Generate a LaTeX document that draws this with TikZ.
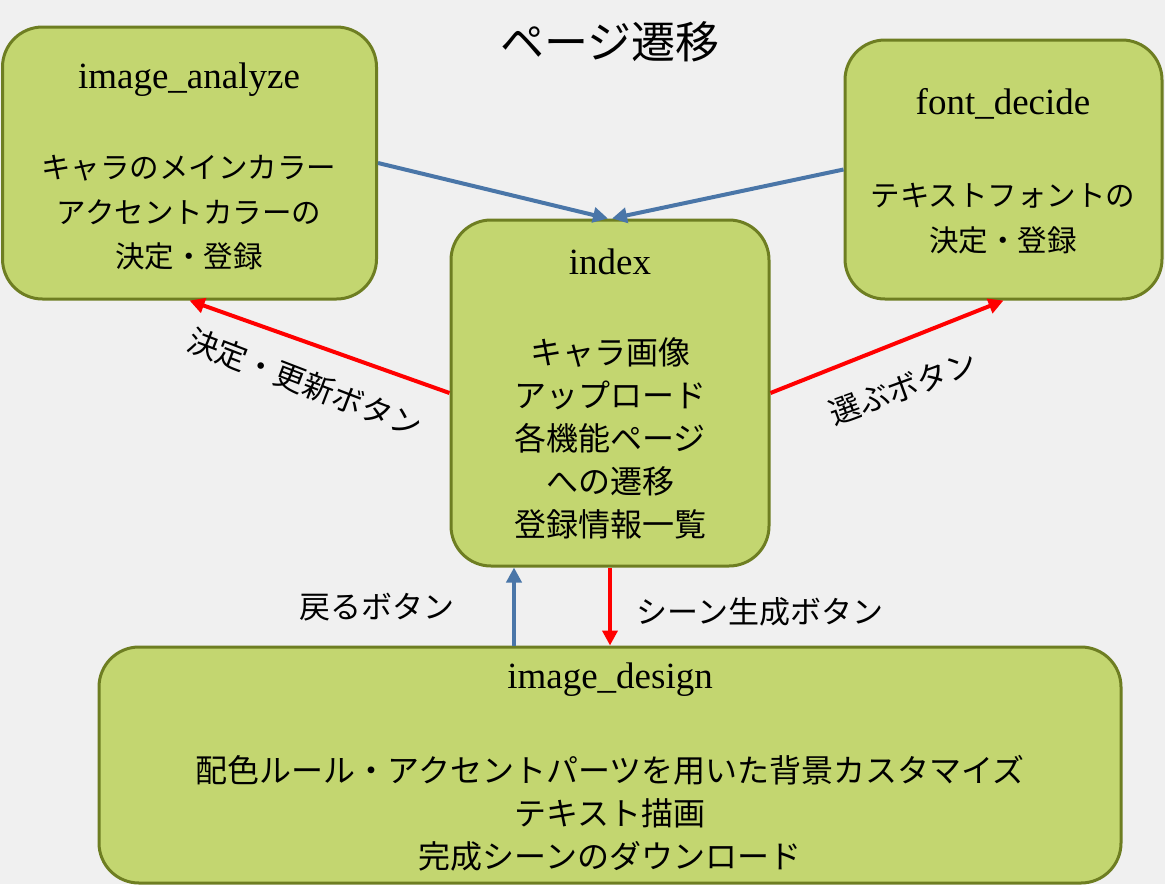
\documentclass[tikz,border=0pt]{standalone}
\usepackage{fontspec}
\setmainfont{Liberation Serif}
\newfontfamily\jp{Noto Sans CJK JP}
\usetikzlibrary{arrows.meta}
\definecolor{bg}{RGB}{240,240,240}
\definecolor{boxfill}{RGB}{195,214,112}
\definecolor{boxline}{RGB}{110,126,34}
\definecolor{bluearr}{RGB}{74,118,168}
\definecolor{redarr}{RGB}{255,0,0}
\tikzset{
  box/.style={draw=boxline, line width=3pt, fill=boxfill, rounded corners=40pt, inner sep=0pt},
  ttl/.style={inner sep=0pt, font=\fontsize{37}{40}\selectfont},
  jtxt/.style={inner sep=0pt, align=center, font=\jp\fontsize{29.5}{44.5}\selectfont},
  jtxtb/.style={inner sep=0pt, align=center, font=\jp\fontsize{32}{43.2}\selectfont},
  lbl/.style={inner sep=0pt, font=\jp\fontsize{31}{34}\selectfont},
  barr/.style={draw=bluearr, line width=4pt, -{Triangle[length=15pt,width=15pt]}},
  rarr/.style={draw=redarr, line width=4pt, -{Triangle[length=15pt,width=15pt]}},
}
\begin{document}
\begin{tikzpicture}[x=1pt,y=-1pt]
\fill[bg] (0,0) rectangle (1165,884);
\useasboundingbox (0,0) rectangle (1165,884);

\node[inner sep=0pt, font=\jp\fontsize{44}{48}\selectfont] (title) at (610,42) {ページ遷移};

% boxes
\node[box, minimum width=374pt, minimum height=272pt] (ia) at (189.5,163) {};
\node[box, minimum width=318pt, minimum height=346pt] (idx) at (610,393) {};
\node[box, minimum width=317pt, minimum height=259pt] (fd) at (1003.5,169.5) {};
\node[box, minimum width=1022pt, minimum height=236pt] (id) at (610,765) {};

% box texts
\node[ttl] (iat) at (189,80) {image\_analyze};
\node[jtxt, anchor=north] (iab) at (189,155) {キャラのメインカラー\\アクセントカラーの\\決定・登録};

\node[ttl] (fdt) at (1003,104) {font\_decide};
\node[jtxt, anchor=north] (fdb) at (1003,183) {テキストフォントの\\決定・登録};

\node[ttl] (idxt) at (610,262) {index};
\node[jtxtb, anchor=north] (idxb) at (610,337) {キャラ画像\\アップロード\\各機能ページ\\への遷移\\登録情報一覧};

\node[ttl] (idt) at (610,680) {image\_design};
\node[jtxtb, anchor=north] (idb) at (610,755) {配色ルール・アクセントパーツを用いた背景カスタマイズ\\テキスト描画\\完成シーンのダウンロード};

% connectors
\draw[barr] (ia.east) -- ([xshift=-2pt]idx.north);
\draw[barr] (fd.west) -- ([xshift=2pt]idx.north);
\draw[rarr] (idx.west) -- (ia.south);
\draw[rarr] (idx.east) -- (fd.south);
\draw[barr] ([xshift=-96pt]id.north) -- ([xshift=-96pt]idx.south);
\draw[rarr] (idx.south) -- (id.north);

% labels
\node[lbl, rotate=-21] (l1) at (305,383) {決定・更新ボタン};
\node[lbl, rotate=20] (l2) at (903,388) {選ぶボタン};
\node[lbl] (l3) at (377,607) {戻るボタン};
\node[lbl] (l4) at (760,612) {シーン生成ボタン};
\end{tikzpicture}
\end{document}
